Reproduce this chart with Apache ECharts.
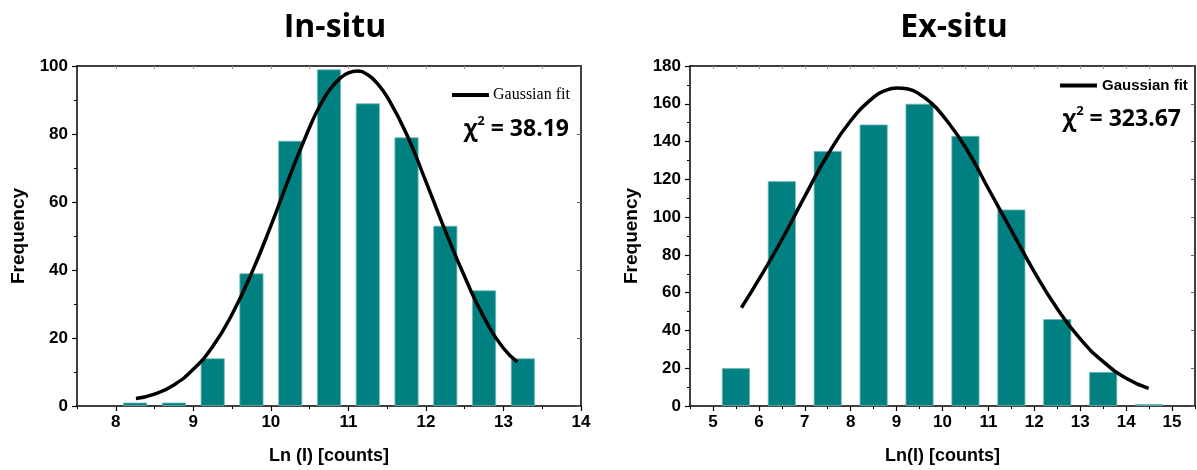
<!DOCTYPE html>
<html>
<head>
<meta charset="utf-8">
<title>In-situ / Ex-situ intensity histograms</title>
<script src="https://cdn.jsdelivr.net/npm/echarts@6/dist/echarts.min.js"></script>
<style>
  html, body { margin: 0; padding: 0; background: #ffffff; }
  #chart { width: 1197px; height: 470px; }
</style>
</head>
<body>
<div id="chart"></div>
<script>
// In-situ histogram: bin centres of Ln(I) and counts
const inSituBins = [8.25, 8.75, 9.25, 9.75, 10.25, 10.75, 11.25, 11.75, 12.25, 12.75, 13.25];
const inSituFreq = [1, 1, 14, 39, 78, 99, 89, 79, 53, 34, 14];
// In-situ Gaussian fit curve
const inSituFitX = [8.26, 8.5, 8.75, 9.0, 9.25, 9.5, 9.75, 10.0, 10.25, 10.5, 10.625, 10.75, 10.875, 11.0, 11.125, 11.25, 11.375, 11.5, 11.75, 12.0, 12.25, 12.5, 12.75, 13.0, 13.18];
const inSituFitY = [2.2, 3.5, 6.2, 10.8, 17.5, 27, 39, 53, 68, 82, 88, 92.7, 96.0, 98.0, 98.5, 97.4, 94.8, 90.9, 80, 66, 51.5, 38, 26, 17, 13];

// Ex-situ histogram
const exSituBins = [5.5, 6.5, 7.5, 8.5, 9.5, 10.5, 11.5, 12.5, 13.5, 14.5];
const exSituFreq = [20, 119, 135, 149, 160, 143, 104, 46, 18, 1];
// Ex-situ Gaussian fit curve
const exSituFitX = [5.62, 6.0, 6.5, 7.0, 7.5, 8.0, 8.5, 8.75, 9.0, 9.25, 9.5, 9.75, 10.0, 10.5, 11.0, 11.5, 12.0, 12.5, 13.0, 13.5, 14.0, 14.49];
const exSituFitY = [52, 67, 88, 111, 133, 151, 163.5, 167.0, 168.4, 167.8, 165.1, 160.5, 154, 137, 115, 93, 71, 51.5, 35.5, 23.5, 14.7, 9.3];

// Tick labels
const inSituXTicks = [8, 9, 10, 11, 12, 13, 14];
const inSituXMinor = [7.5, 8.5, 9.5, 10.5, 11.5, 12.5, 13.5];
const exSituXTicks = [5, 6, 7, 8, 9, 10, 11, 12, 13, 14, 15];
const exSituXMinor = [4.5, 5.5, 6.5, 7.5, 8.5, 9.5, 10.5, 11.5, 12.5, 13.5, 14.5, 15.5];

const panelTitles = ['In-situ', 'Ex-situ'];
const chiSquared = ['38.19', '323.67'];
const xNames = ['Ln (I) [counts]', 'Ln(I) [counts]'];
const yName = 'Frequency';
const fitName = 'Gaussian fit';

const zip = (xs, ys) => xs.map((x, i) => [x, ys[i]]);
const half = arr => arr.flatMap(v => [v - 0.5, v]).concat([arr[arr.length - 1] + 0.5]);

const SANS = 'Liberation Sans, Arial, sans-serif';
const TEAL = '#008080';

function bottomAxis(grid, min, max, ticks, name) {
  return {
    type: 'value', gridIndex: grid, position: 'bottom', min: min, max: max,
    name: name, nameLocation: 'middle', nameGap: 41,
    nameTextStyle: { fontFamily: SANS, fontWeight: 'bold', fontSize: 18, color: '#000' },
    axisLine: { show: true, onZero: false, lineStyle: { color: '#000', width: 1.5 } },
    axisTick: { show: true, customValues: ticks, length: 5, lineStyle: { color: '#000', width: 1.2 } },
    axisLabel: { customValues: ticks, margin: 8, fontFamily: SANS, fontWeight: 'bold', fontSize: 17, color: '#000' },
    splitLine: { show: false }
  };
}
function minorAxis(grid, min, max, ticks) {
  return {
    type: 'value', gridIndex: grid, position: 'bottom', min: min, max: max,
    axisLine: { show: false, onZero: false },
    axisTick: { show: true, customValues: ticks, length: 3, lineStyle: { color: '#000', width: 1 } },
    axisLabel: { show: false }, splitLine: { show: false }
  };
}
function topAxis(grid, min, max, ticks) {
  return {
    type: 'value', gridIndex: grid, position: 'top', min: min, max: max,
    axisLine: { show: true, onZero: false, lineStyle: { color: '#000', width: 1.5 } },
    axisTick: { show: true, inside: true, customValues: ticks, length: 3, lineStyle: { color: '#999', width: 1 } },
    axisLabel: { show: false }, splitLine: { show: false }
  };
}
function leftAxis(grid, max) {
  return {
    type: 'value', gridIndex: grid, position: 'left', min: 0, max: max, interval: 20,
    name: yName, nameLocation: 'middle', nameGap: 49, nameRotate: 90,
    nameTextStyle: { fontFamily: SANS, fontWeight: 'bold', fontSize: 19, color: '#000' },
    axisLine: { show: true, onZero: false, lineStyle: { color: '#000', width: 1.5 } },
    axisTick: { show: true, length: 5, lineStyle: { color: '#000', width: 1.2 } },
    minorTick: { show: true, splitNumber: 2, length: 3, lineStyle: { color: '#000', width: 1 } },
    axisLabel: { margin: 9, fontFamily: SANS, fontWeight: 'bold', fontSize: 17, color: '#000' },
    splitLine: { show: false }, minorSplitLine: { show: false }
  };
}
function rightAxis(grid, max) {
  return {
    type: 'value', gridIndex: grid, position: 'right', min: 0, max: max, interval: 20,
    axisLine: { show: true, onZero: false, lineStyle: { color: '#000', width: 1.5 } },
    axisTick: { show: true, inside: true, length: 4, lineStyle: { color: '#666', width: 1 } },
    axisLabel: { show: false }, splitLine: { show: false }
  };
}

const chi = v => ({
  text: '{a|χ}{s|2}{a| = ' + v + '}',
  textStyle: {
    rich: {
      a: { fontFamily: 'Open Sans', fontWeight: 'bold', fontSize: 23, color: '#000', lineHeight: 28 },
      s: { fontFamily: 'Open Sans', fontWeight: 'bold', fontSize: 13, color: '#000', lineHeight: 28, verticalAlign: 'top', padding: [0, 0, 8, 0] }
    }
  }
});

const chart = echarts.init(document.getElementById('chart'), null, { renderer: 'canvas' });
chart.setOption({
  backgroundColor: '#ffffff',
  animation: false,
  title: [
    { text: panelTitles[0], left: 330, top: 7, textAlign: 'center',
      textStyle: { fontFamily: 'Open Sans', fontWeight: 'bold', fontSize: 32, color: '#000' } },
    { text: panelTitles[1], left: 949, top: 7, textAlign: 'center',
      textStyle: { fontFamily: 'Open Sans', fontWeight: 'bold', fontSize: 32, color: '#000' } },
    Object.assign({ right: 1197 - 574, top: 110 }, chi(chiSquared[0])),
    Object.assign({ right: 1197 - 1186, top: 100 }, chi(chiSquared[1]))
  ],
  legend: [
    { data: [fitName], left: 452, top: 87, padding: 0, itemGap: 0, icon: 'rect',
      itemWidth: 37, itemHeight: 4, selectedMode: false,
      textStyle: { fontFamily: 'Liberation Serif, Times New Roman, serif', fontSize: 16, color: '#000', padding: [0, 0, 0, -1] } },
    { data: [fitName], left: 1060, top: 78, padding: 0, itemGap: 0, icon: 'rect',
      itemWidth: 37, itemHeight: 4, selectedMode: false,
      textStyle: { fontFamily: SANS, fontWeight: 'bold', fontSize: 15, color: '#000' } }
  ],
  grid: [
    { left: 77, right: 1197 - 581, top: 66, bottom: 470 - 407 },
    { left: 690, right: 2, top: 66, bottom: 470 - 408 }
  ],
  xAxis: [
    bottomAxis(0, 7.5, 14, inSituXTicks, xNames[0]),
    minorAxis(0, 7.5, 14, inSituXMinor),
    topAxis(0, 7.5, 14, half(inSituXTicks).filter(v => v > 7.5 && v < 14)),
    bottomAxis(1, 4.5, 15.5, exSituXTicks, xNames[1]),
    minorAxis(1, 4.5, 15.5, exSituXMinor),
    topAxis(1, 4.5, 15.5, half(exSituXTicks).filter(v => v > 4.5 && v < 15.5))
  ],
  yAxis: [
    leftAxis(0, 100),
    rightAxis(0, 100),
    leftAxis(1, 180),
    rightAxis(1, 180)
  ],
  series: [
    { type: 'bar', name: 'In-situ', xAxisIndex: 0, yAxisIndex: 0, barWidth: 24,
      data: zip(inSituBins, inSituFreq),
      itemStyle: { color: TEAL, borderColor: '#6fb8b8', borderWidth: 0.8 } },
    { type: 'line', name: fitName, xAxisIndex: 0, yAxisIndex: 0, smooth: 0.5, showSymbol: false, symbol: 'none',
      data: zip(inSituFitX, inSituFitY), z: 5,
      itemStyle: { color: '#000' }, lineStyle: { color: '#000', width: 3.5 } },
    { type: 'bar', name: 'Ex-situ', xAxisIndex: 3, yAxisIndex: 2, barWidth: 28,
      data: zip(exSituBins, exSituFreq),
      itemStyle: { color: TEAL, borderColor: '#6fb8b8', borderWidth: 0.8 } },
    { type: 'line', name: fitName, xAxisIndex: 3, yAxisIndex: 2, smooth: 0.5, showSymbol: false, symbol: 'none',
      data: zip(exSituFitX, exSituFitY), z: 5,
      itemStyle: { color: '#000' }, lineStyle: { color: '#000', width: 3.5 } }
  ]
});
</script>
</body>
</html>
